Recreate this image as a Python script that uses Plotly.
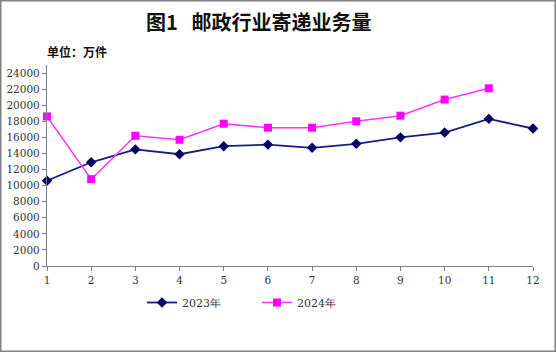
import plotly.graph_objects as go

months = [1, 2, 3, 4, 5, 6, 7, 8, 9, 10, 11, 12]
y2023 = [10600, 12900, 14500, 13900, 14900, 15100, 14700, 15200, 16000, 16600, 18300, 17100]
months_2024 = [1, 2, 3, 4, 5, 6, 7, 8, 9, 10, 11]
y2024 = [18600, 10800, 16200, 15700, 17700, 17200, 17200, 18000, 18700, 20700, 22100]
yticks = list(range(0, 24001, 2000))

W, H = 556, 352
L, R, T, B = 47, 23, 65, 86
pw, ph = W - L - R, H - T - B

def px_x(p):
    return (p - L) / pw

def px_y(p):
    return (H - B - p) / ph

fig = go.Figure()
fig.add_trace(go.Scatter(
    x=months, y=y2023, name="2023年", mode="lines+markers",
    line=dict(color="#1a1a80", width=1.8),
    marker=dict(symbol="diamond", size=8, color="#000066"),
    cliponaxis=False,
))
fig.add_trace(go.Scatter(
    x=months_2024, y=y2024, name="2024年", mode="lines+markers",
    line=dict(color="#ff33ff", width=1.5),
    marker=dict(symbol="square", size=8, color="#ff00ff"),
    cliponaxis=False,
))

serif = "DejaVu Serif, Liberation Serif, serif"
fig.update_layout(
    width=W, height=H,
    margin=dict(l=L, r=R, t=T, b=B, autoexpand=False),
    paper_bgcolor="white", plot_bgcolor="white",
    showlegend=True,
    legend=dict(orientation="h", x=px_x(142), y=px_y(288), xanchor="left", yanchor="top",
                font=dict(family=serif, size=11, color="#333"),
                entrywidth=70, itemwidth=30, bgcolor="rgba(0,0,0,0)"),
    xaxis=dict(range=[1, 12], tickvals=months, ticktext=[str(m) for m in months],
               showline=True, linecolor="#808080", linewidth=1.2,
               ticks="outside", ticklen=4, tickcolor="#808080",
               showgrid=False, zeroline=False, automargin=False,
               tickfont=dict(family=serif, size=10.5, color="#333")),
    yaxis=dict(range=[0, 25000], tickvals=yticks, ticktext=[str(v) for v in yticks],
               showline=True, linecolor="#808080", linewidth=1.2,
               ticks="outside", ticklen=4, tickcolor="#808080",
               showgrid=False, zeroline=False, automargin=False,
               tickfont=dict(family=serif, size=10.5, color="#333")),
    annotations=[
        dict(text="<b>图1&nbsp;&nbsp;&nbsp;邮政行业寄递业务量</b>", xref="paper", yref="paper",
             x=px_x(258), y=px_y(22), xanchor="center", yanchor="middle", showarrow=False,
             font=dict(family="Noto Sans CJK SC", size=20, color="#111")),
        dict(text="<b>单位：万件</b>", xref="paper", yref="paper",
             x=px_x(45), y=px_y(52), xanchor="left", yanchor="middle", showarrow=False,
             font=dict(family="Noto Sans CJK SC", size=12, color="#111")),
    ],
    shapes=[
        dict(type="rect", xref="paper", yref="paper",
             x0=px_x(0.75), x1=px_x(W - 0.75), y0=px_y(H - 0.75), y1=px_y(0.75),
             line=dict(color="#808080", width=1.5), fillcolor="rgba(0,0,0,0)", layer="below"),
    ],
)

fig.write_html("out.html")
